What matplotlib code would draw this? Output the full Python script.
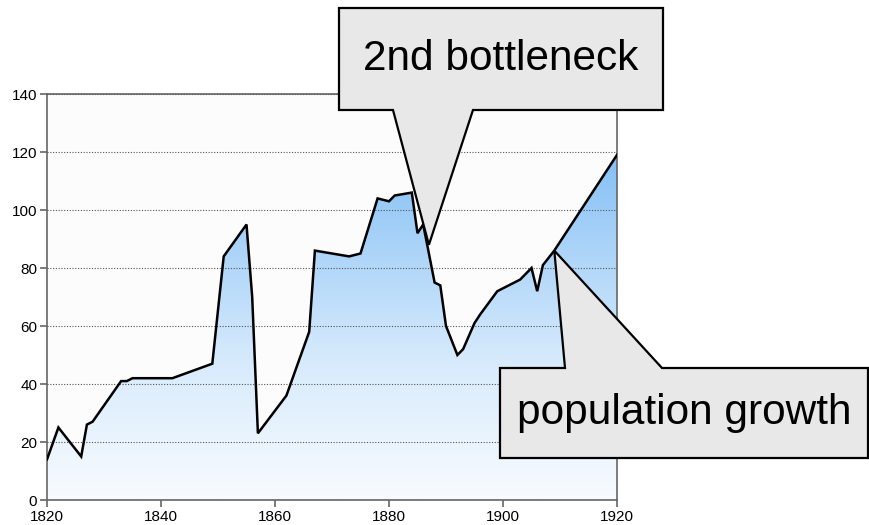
import numpy as np
import matplotlib.pyplot as plt
from matplotlib.colors import LinearSegmentedColormap
from matplotlib.patches import Polygon

plt.rcParams['font.family'] = ['Liberation Sans', 'DejaVu Sans']

# Daten
years = [1820, 1822, 1826, 1827, 1828, 1833, 1834, 1835, 1842, 1849, 1851, 1855,
         1856, 1857, 1862, 1866, 1867, 1873, 1875, 1878, 1880, 1881, 1884, 1885,
         1886, 1888, 1889, 1890, 1892, 1893, 1895, 1896, 1899, 1903, 1905, 1906,
         1907, 1909, 1920]
population = [14, 25, 15, 26, 27, 41, 41, 42, 42, 47, 84, 95,
              70, 23, 36, 58, 86, 84, 85, 104, 103, 105, 106, 92,
              95, 75, 74, 60, 50, 52, 61, 64, 72, 76, 80, 72,
              81, 86, 119]

xticks = [1820, 1840, 1860, 1880, 1900, 1920]
yticks = [0, 20, 40, 60, 80, 100, 120, 140]

callout_texts = ['2nd bottleneck', 'population growth']
callout_targets = [(1887, 88), (1909, 86)]

W, H = 870, 525
fig = plt.figure(figsize=(W / 100, H / 100), dpi=100)
ax = fig.add_axes([47 / W, 25 / H, 570 / W, 406 / H])
ax.set_facecolor('#fcfcfc')

# Flaeche unter der Kurve mit Farbverlauf
area = ax.fill_between(years, population, 0, facecolor='none', edgecolor='none')
cmap = LinearSegmentedColormap.from_list('sky', ['#f8fbff', '#d8ebfc', '#a4d0f8', '#68b3f4'])
grad = np.linspace(0, 1, 256).reshape(-1, 1)
img = ax.imshow(grad, extent=[1820, 1920, 0, 140], origin='lower', aspect='auto',
                cmap=cmap, zorder=1, interpolation='bilinear')
img.set_clip_path(area.get_paths()[0], transform=ax.transData)

ax.plot(years, population, color='black', lw=1.8, zorder=3, solid_joinstyle='miter')

ax.set_xlim(1820, 1920)
ax.set_ylim(0, 140)
ax.set_xticks(xticks)
ax.set_yticks(yticks)
ax.set_axisbelow(False)
ax.yaxis.grid(True, linestyle=(0, (1, 1.5)), color='#555555', lw=0.8)
for s in ax.spines.values():
    s.set_color('#666666')
    s.set_linewidth(1.2)
ax.tick_params(direction='out', length=5, width=1.2, color='#666666', labelsize=11, pad=2)

# Sprechblasen (Pixel, Ursprung oben links)
boxes = [(339, 8, 663, 110), (500, 368, 868, 458)]
wedges = [(393, 473, 'bottom'), (565, 662, 'top')]

fig.canvas.draw()
for text, (tx, ty), (x0, y0, x1, y1), (w0, w1, side) in zip(callout_texts, callout_targets, boxes, wedges):
    tip = fig.transFigure.inverted().transform(ax.transData.transform((tx, ty)))
    f = lambda x, y: (x / W, 1 - y / H)
    if side == 'bottom':
        pts = [f(x0, y0), f(x1, y0), f(x1, y1), f(w1, y1), tuple(tip), f(w0, y1), f(x0, y1)]
    else:
        pts = [f(x0, y0), f(w0, y0), tuple(tip), f(w1, y0), f(x1, y0), f(x1, y1), f(x0, y1)]
    fig.add_artist(Polygon(pts, closed=True, transform=fig.transFigure, facecolor='#e8e8e8',
                           edgecolor='black', lw=1.6, zorder=10, joinstyle='miter'))
    fig.text((x0 + x1) / 2 / W, 1 - (y0 + y1) / 2 / H, text, fontsize=30.5,
             ha='center', va='center', zorder=11)

fig.savefig('out.png', dpi=100)
